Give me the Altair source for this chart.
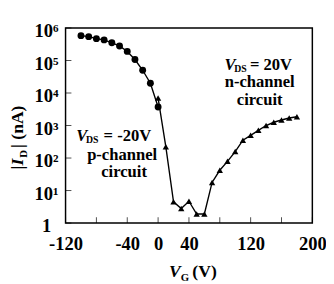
import altair as alt
import pandas as pd

# p-channel circuit (V_DS = -20 V), circles
p_vg = [-100, -90, -80, -70, -60, -50, -40, -30, -20, -10, 0]
p_id = [5.8e5, 5.4e5, 4.7e5, 4.3e5, 3.5e5, 2.8e5, 1.9e5, 1.07e5, 5.0e4, 2.0e4, 3700]

# n-channel circuit (V_DS = 20 V), triangles
n_vg = [0, 10, 20, 30, 40, 50, 60, 70, 80, 90, 100, 110, 120, 130, 140, 150, 160, 170, 180]
n_id = [7000, 224, 4.5, 2.8, 4.7, 1.9, 1.9, 17.8, 42, 79, 158, 355, 500, 710, 1000, 1260, 1480, 1700, 1860]

x_ticks = [-120, -80, -40, 0, 40, 80, 120, 160, 200]
x_labels = [-120, -40, 0, 40, 120, 200]
y_ticks = [1, 10, 100, 1000, 10000, 100000, 1000000]

FONT = "Liberation Serif"

p_df = pd.DataFrame({"V": p_vg, "I": p_id})
n_df = pd.DataFrame({"V": n_vg, "I": n_id})

xs = alt.Scale(domain=[-120, 200], nice=False, zero=False)
ys = alt.Scale(type="log", domain=[1, 1e6], nice=False)

lab_list = ",".join(str(v) for v in x_labels)
x_axis = alt.Axis(
    values=x_ticks, ticks=False, domain=False, grid=False, title=None,
    labelExpr=f"indexof([{lab_list}], datum.value) >= 0 ? '' + datum.value : ''",
    labelFont=FONT, labelFontWeight="bold", labelFontSize=19, labelColor="black",
    labelPadding=12, labelFlush=False, labelOverlap=False,
)
y_axis = alt.Axis(
    values=y_ticks, ticks=False, domain=False, grid=False, title=None,
    labelExpr="datum.value == 1 ? '1' : '10' + ['','\u00b9','\u00b2','\u00b3','\u2074','\u2075','\u2076'][round(log(datum.value)/LN10)]",
    labelFont=FONT, labelFontWeight="bold", labelFontSize=19, labelColor="black",
    labelAlign="center", labelBaseline="middle", labelOffset=3, labelPadding=20,
    labelFlush=False, labelOverlap=False,
)

X = alt.X("V:Q", scale=xs, axis=x_axis)
Y = alt.Y("I:Q", scale=ys, axis=y_axis)

p_line = alt.Chart(p_df).mark_line(color="black", strokeWidth=1.4).encode(x=X, y=Y)
n_line = alt.Chart(n_df).mark_line(color="black", strokeWidth=1.4).encode(x=X, y=Y)
p_pts = alt.Chart(p_df).mark_point(shape="circle", size=50, filled=True, color="black", opacity=1).encode(x=X, y=Y)
n_pts = alt.Chart(n_df).mark_point(shape="triangle-up", size=42, filled=True, color="black", opacity=1).encode(x=X, y=Y)

xt = alt.Chart(pd.DataFrame({"V": x_ticks})).mark_tick(color="black", thickness=1, size=6).encode(
    x=X, y=alt.value(197))
yt = alt.Chart(pd.DataFrame({"I": y_ticks})).mark_tick(color="black", thickness=1, size=6).encode(
    y=Y, x=alt.value(3))


def txt(s, x, y, size=17, style="normal", align="left", angle=0):
    return alt.Chart(pd.DataFrame({"t": [s]})).mark_text(
        font=FONT, fontWeight="bold", fontStyle=style, fontSize=size,
        align=align, baseline="alphabetic", angle=angle, color="black",
    ).encode(text="t:N", x=alt.value(x), y=alt.value(y))


texts = [
    # n-channel annotation
    txt("V", 163, 43, style="italic"),
    txt("DS", 173, 45, size=10),
    txt("= 20V", 189, 43),
    txt("n-channel", 199, 61, align="center"),
    txt("circuit", 199, 79, align="center"),
    # p-channel annotation
    txt("V", 11, 116, style="italic"),
    txt("DS", 21, 118, size=10),
    txt("= -20V", 39, 116),
    txt("p-channel", 58, 135, align="center"),
    txt("circuit", 60, 153, align="center"),
    # x title
    txt("V", 106, 255, style="italic", size=18),
    txt("G", 118, 259, size=11),
    txt("(V)", 130, 255, size=18),
    # y title (rotated)
    txt("|I", -44, 145, style="italic", size=18, angle=270),
    txt("D", -40, 133, size=11, angle=270),
    txt("| (nA)", -44, 123, size=18, angle=270),
]

chart = alt.layer(p_line, n_line, p_pts, n_pts, xt, yt, *texts).properties(
    width=253, height=200,
    padding={"left": 59, "top": 17, "right": 14, "bottom": 59},
    autosize=alt.AutoSizeParams(type="none"),
).configure_view(stroke="black", strokeWidth=1.5)

chart.save("out.html", embed_options={"renderer": "svg", "actions": False})
